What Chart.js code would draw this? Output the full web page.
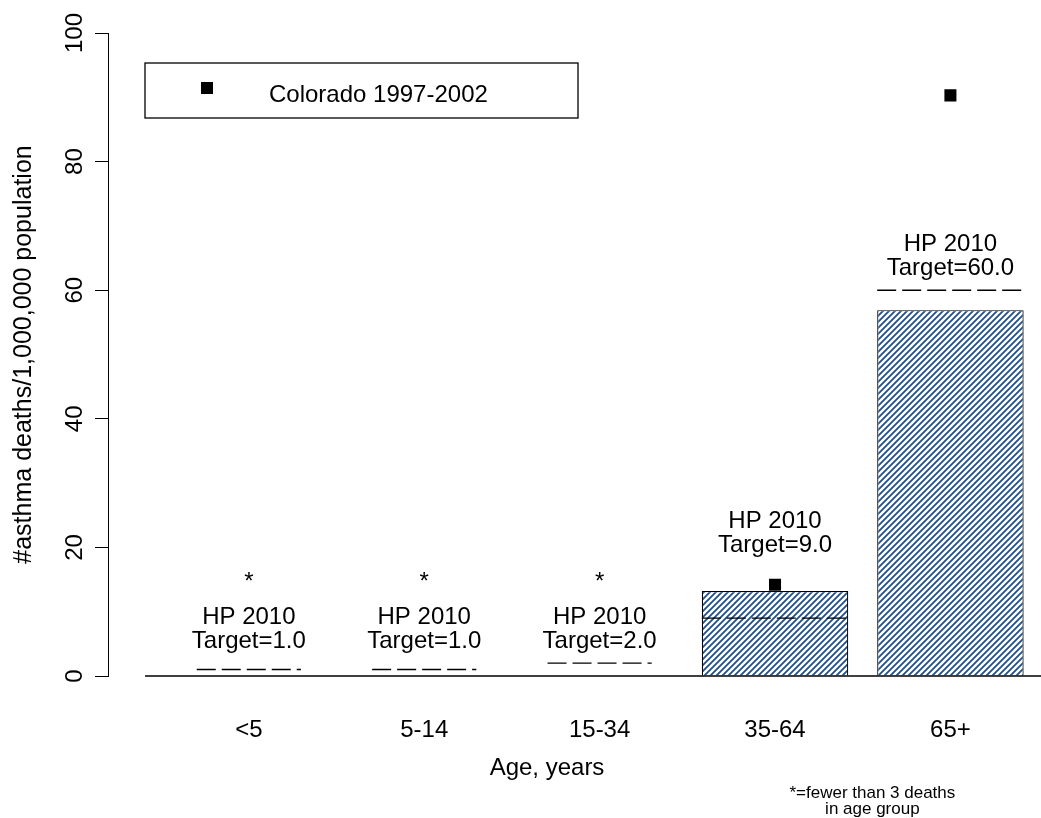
<!DOCTYPE html>
<html>
<head>
<meta charset="utf-8">
<script src="https://cdn.jsdelivr.net/npm/chart.js@4"></script>
<style>
  body { margin: 0; background: #fff; }
  #wrap { width: 1041px; height: 818px; }
</style>
</head>
<body>
<div id="wrap"><canvas id="asthmaChart" width="1041" height="818"></canvas></div>
<script>

// data
const ageGroups = ['<5', '5-14', '15-34', '35-64', '65+']
const barRates = [null, null, null, 13.2, 56.9]
const coloradoRates = [null, null, null, 14.2, 90.3]
const hpTargets = [1.0, 1.0, 2.0, 9.0, 60.0]
const fewDeaths = [true, true, true, false, false]
const yTicks = [0, 20, 40, 60, 80, 100]

// where the "HP 2010 / Target=" labels sit (baseline of the Target line, y units)
const targetLabelY = [4.35, 4.35, 4.35, 19.3, 62.4]
const starY = 15.1

const FONT = '"Liberation Sans", Arial, Helvetica, sans-serif'

// hatch fill for the bars
function hatch(){
  const c = document.createElement('canvas')
  c.width = 6
  c.height = 6
  const g = c.getContext('2d')
  g.fillStyle = '#fff'
  g.fillRect(0, 0, 6, 6)
  g.strokeStyle = '#1d4f8c'
  g.lineWidth = 1.8
  g.beginPath()
  g.moveTo(-1, 7); g.lineTo(7, -1)
  g.moveTo(-4, 4); g.lineTo(4, -4)
  g.moveTo(2, 10); g.lineTo(10, 2)
  g.stroke()
  return g.createPattern(c, 'repeat')
}

const extras = {
  id: 'extras',
  afterDatasetsDraw(chart){
    const ctx = chart.ctx
    const x = chart.scales.x
    const y = chart.scales.y
    const area = chart.chartArea
    ctx.save()

    // baseline
    ctx.strokeStyle = '#000'
    ctx.lineWidth = 1.5
    ctx.beginPath()
    ctx.moveTo(x.getPixelForValue(-0.592), y.getPixelForValue(0))
    ctx.lineTo(chart.width, y.getPixelForValue(0))
    ctx.stroke()

    // y tick labels, rotated like the original
    ctx.fillStyle = '#000'
    ctx.font = '24px ' + FONT
    ctx.textAlign = 'center'
    ctx.textBaseline = 'middle'
    yTicks.forEach(v => {
      ctx.save()
      ctx.translate(area.left - 33, y.getPixelForValue(v))
      ctx.rotate(-Math.PI / 2)
      ctx.fillText(String(v), 0, 0)
      ctx.restore()
    })

    // HP 2010 target lines
    ctx.setLineDash([19, 6])
    ctx.lineWidth = 1.4
    hpTargets.forEach((t, i) => {
      const half = barRates[i] ? 0.4175 : 0.297
      const py = y.getPixelForValue(t)
      ctx.beginPath()
      ctx.moveTo(x.getPixelForValue(i - half), py)
      ctx.lineTo(x.getPixelForValue(i + half), py)
      ctx.stroke()
    })
    ctx.setLineDash([])

    // labels
    ctx.textBaseline = 'alphabetic'
    hpTargets.forEach((t, i) => {
      const px = x.getPixelForValue(i)
      const py = y.getPixelForValue(targetLabelY[i])
      ctx.fillText('Target=' + t.toFixed(1), px, py)
      ctx.fillText('HP 2010', px, py - 24)
      if(fewDeaths[i]){
        ctx.textBaseline = 'middle'
        ctx.fillText('*', px, y.getPixelForValue(starY) + 3)
        ctx.textBaseline = 'alphabetic'
      }
    })

    // legend box
    const lx = area.left + 37, ly = area.top + 30
    ctx.lineWidth = 1.3
    ctx.strokeRect(lx, ly, 433, 55)
    ctx.fillRect(lx + 56, ly + 19, 12, 12)
    ctx.textAlign = 'left'
    ctx.fillText('Colorado 1997-2002', lx + 124, ly + 39)

    // x title and footnote
    ctx.textAlign = 'center'
    ctx.textBaseline = 'middle'
    const b = y.getPixelForValue(0)
    ctx.fillText('Age, years', x.getPixelForValue(1.70), b + 92)
    ctx.font = '17px ' + FONT
    ctx.fillText('*=fewer than 3 deaths', x.getPixelForValue(3.555), b + 117)
    ctx.fillText('in age group', x.getPixelForValue(3.555), b + 133)

    ctx.restore()
  }
}

const ctx = document.getElementById('asthmaChart')

new Chart(ctx, {
  type: 'bar',
  data: {
    datasets: [
      {
        type: 'line',
        label: 'Colorado 1997-2002',
        data: coloradoRates.map((v, i) => ({ x: i, y: v })),
        showLine: false,
        pointStyle: 'rect',
        pointRadius: 8.5,
        pointBackgroundColor: '#000',
        pointBorderColor: '#000',
        pointBorderWidth: 0,
        order: 0
      },
      {
        label: 'Rate',
        data: barRates.map((v, i) => ({ x: i, y: v })),
        backgroundColor: hatch(),
        borderColor: '#000',
        borderWidth: 1.2,
        borderSkipped: 'bottom',
        categoryPercentage: 1,
        barPercentage: 0.835,
        order: 1
      }
    ]
  },
  options: {
    responsive: false,
    animation: false,
    layout: { padding: { left: 0, top: 33, right: 0, bottom: 33.2 } },
    plugins: {
      legend: { display: false },
      tooltip: { enabled: false }
    },
    scales: {
      x: {
        type: 'linear',
        offset: false,
        min: -0.803,
        max: 4.468,
        afterBuildTicks: scale => {
          scale.ticks = ageGroups.map((c, i) => ({ value: i }))
        },
        grid: { display: false, drawTicks: false, offset: false },
        border: { display: false },
        ticks: {
          padding: 40,
          maxRotation: 0,
          autoSkip: false,
          color: '#000',
          font: { size: 24, family: FONT },
          callback: v => ageGroups[v]
        }
      },
      y: {
        min: 0,
        max: 100,
        grid: {
          drawOnChartArea: false,
          drawTicks: true,
          tickLength: 13,
          tickColor: '#000',
          tickWidth: 1
        },
        border: { display: true, color: '#000', width: 1 },
        ticks: { display: false, stepSize: 20 },
        title: {
          display: true,
          text: '#asthma deaths/1,000,000 population',
          color: '#000',
          font: { size: 25, family: FONT },
          padding: { top: 9, bottom: 56 }
        }
      }
    }
  },
  plugins: [extras]
})

</script>
</body>
</html>
